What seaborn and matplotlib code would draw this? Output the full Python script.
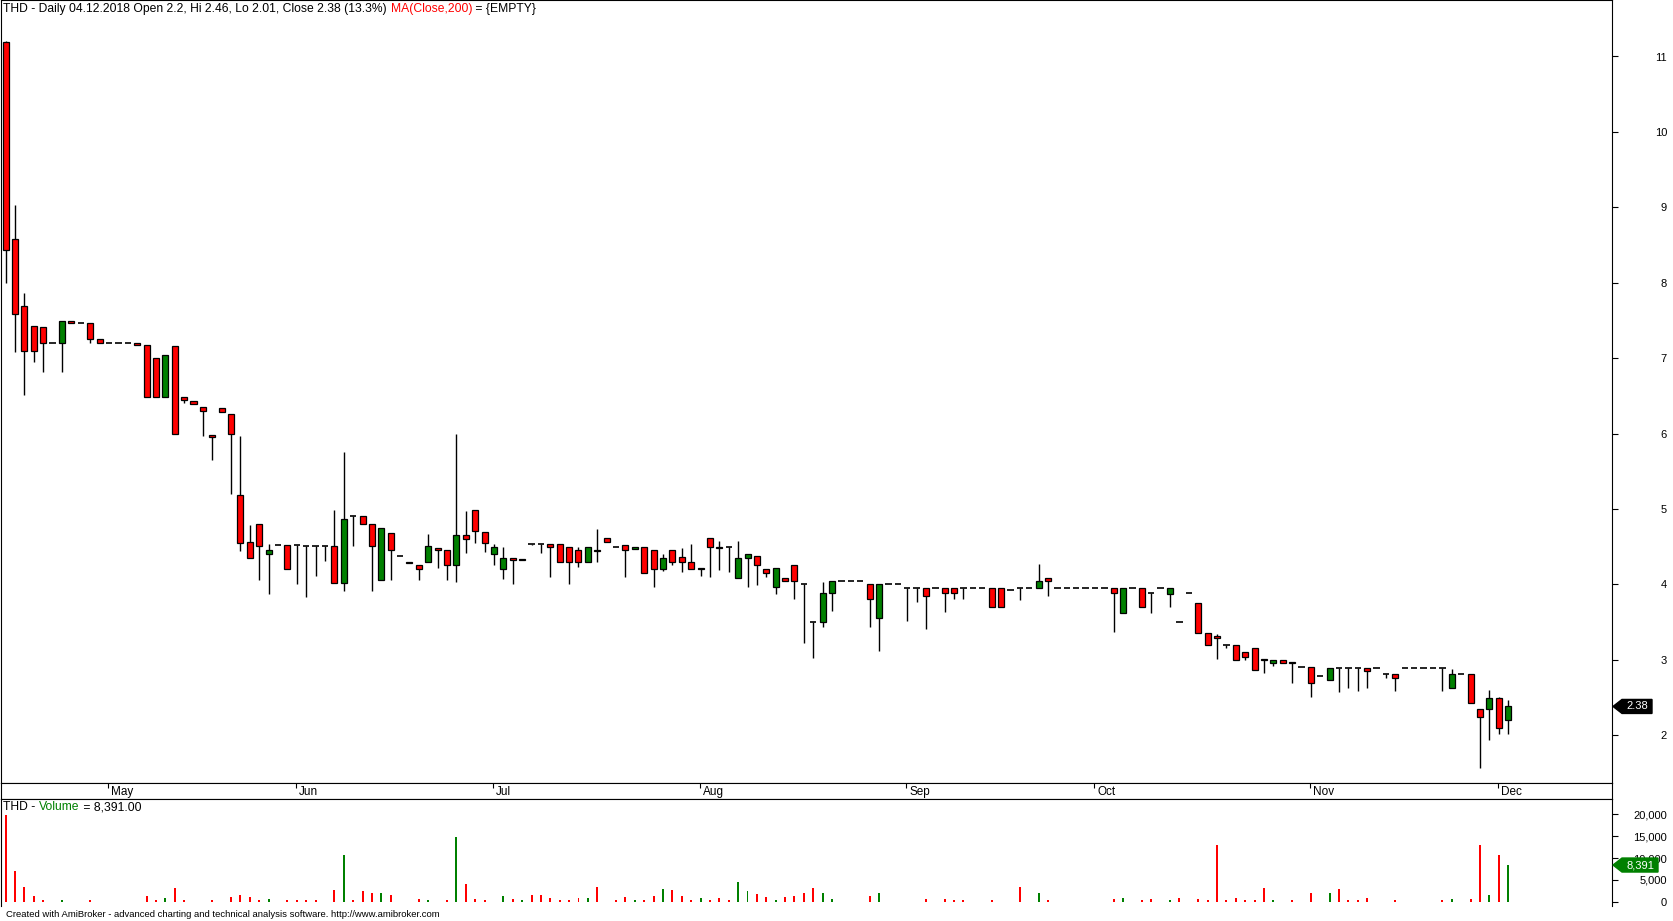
import numpy as np
import pandas as pd
import matplotlib
matplotlib.use("Agg")
import matplotlib.pyplot as plt
from matplotlib.patches import Polygon
import seaborn as sns

# Estilo: fundo branco, linhas pretas como no AmiBroker
sns.set_theme(style="white", rc={
    "axes.edgecolor": "black", "axes.linewidth": 0.8,
    "text.color": "black", "xtick.color": "black", "ytick.color": "black",
})
plt.rcParams['font.family'] = ['Liberation Sans', 'DejaVu Sans']

# --- dados ---
holidays = ['2018-05-01', '2018-05-03', '2018-05-31', '2018-08-15', '2018-11-01', '2018-11-12']
dates = pd.bdate_range('2018-04-16', '2018-12-04', freq='C', holidays=holidays)

opens = [11.19, 8.58, 7.69, 7.42, 7.41, 7.20, 7.20, 7.49, 7.47, 7.47,
         7.25, 7.20, 7.20, 7.20, 7.20, 7.17, 7.00, 6.49, 7.16, 6.48,
         6.43, 6.35, 5.98, 6.34, 6.26, 5.19, 4.56, 4.80, 4.40, 4.52,
         4.52, 4.52, 4.51, 4.51, 4.51, 4.51, 4.02, 4.91, 4.91, 4.80,
         4.06, 4.68, 4.38, 4.30, 4.25, 4.29, 4.48, 4.46, 4.26, 4.65,
         4.98, 4.69, 4.40, 4.20, 4.35, 4.32, 4.54, 4.53, 4.53, 4.53,
         4.50, 4.45, 4.29, 4.46, 4.62, 4.50, 4.52, 4.47, 4.49, 4.46,
         4.20, 4.46, 4.36, 4.29, 4.20, 4.62, 4.50, 4.50, 4.09, 4.35,
         4.38, 4.20, 3.96, 4.08, 4.25, 4.00, 3.50, 3.50, 3.89, 4.04,
         4.04, 4.04, 4.00, 3.55, 4.00, 4.00, 3.95, 3.95, 3.95, 3.95,
         3.95, 3.95, 3.95, 3.95, 3.95, 3.95, 3.95, 3.93, 3.95, 3.95,
         3.95, 4.09, 3.95, 3.95, 3.95, 3.95, 3.95, 3.95, 3.95, 3.62,
         3.95, 3.95, 3.89, 3.95, 3.87, 3.50, 3.88, 3.75, 3.35, 3.31,
         3.20, 3.20, 3.10, 3.15, 3.01, 2.96, 3.00, 2.97, 2.90, 2.90,
         2.78, 2.73, 2.89, 2.89, 2.89, 2.89, 2.89, 2.81, 2.81, 2.89,
         2.89, 2.89, 2.89, 2.89, 2.63, 2.81, 2.81, 2.35, 2.35, 2.49,
         2.20]
highs = [11.20, 9.03, 7.87, 7.42, 7.41, 7.20, 7.49, 7.49, 7.47, 7.47,
         7.25, 7.20, 7.20, 7.20, 7.20, 7.17, 7.00, 7.04, 7.16, 6.48,
         6.43, 6.35, 5.98, 6.34, 6.26, 5.97, 4.79, 4.80, 4.53, 4.52,
         4.52, 4.52, 4.51, 4.51, 4.51, 4.99, 5.76, 4.91, 4.91, 4.80,
         4.75, 4.68, 4.38, 4.30, 4.25, 4.67, 4.48, 4.46, 5.99, 4.97,
         4.98, 4.69, 4.53, 4.49, 4.35, 4.34, 4.54, 4.53, 4.53, 4.53,
         4.50, 4.49, 4.50, 4.73, 4.62, 4.50, 4.52, 4.49, 4.49, 4.46,
         4.40, 4.46, 4.48, 4.54, 4.22, 4.62, 4.57, 4.50, 4.57, 4.40,
         4.38, 4.20, 4.21, 4.08, 4.25, 4.00, 3.50, 4.03, 4.04, 4.04,
         4.04, 4.04, 4.00, 4.00, 4.00, 4.00, 3.95, 3.95, 3.95, 3.95,
         3.95, 3.95, 3.95, 3.95, 3.95, 3.95, 3.95, 3.93, 3.95, 3.95,
         4.27, 4.09, 3.95, 3.95, 3.95, 3.95, 3.95, 3.95, 3.95, 3.95,
         3.95, 3.95, 3.89, 3.95, 3.95, 3.50, 3.88, 3.75, 3.35, 3.34,
         3.20, 3.20, 3.10, 3.15, 3.01, 3.00, 3.00, 2.97, 2.90, 2.90,
         2.78, 2.89, 2.89, 2.89, 2.89, 2.89, 2.89, 2.81, 2.81, 2.89,
         2.89, 2.89, 2.89, 2.89, 2.88, 2.81, 2.81, 2.35, 2.60, 2.51,
         2.46]
lows = [8.00, 7.08, 6.51, 6.95, 6.81, 7.20, 6.81, 7.47, 7.47, 7.20,
        7.20, 7.20, 7.20, 7.20, 7.17, 6.49, 6.49, 6.49, 5.99, 6.41,
        6.39, 5.97, 5.65, 6.29, 5.20, 4.44, 4.35, 4.06, 3.87, 4.52,
        4.20, 4.01, 3.83, 4.11, 4.31, 4.02, 3.91, 4.51, 4.80, 3.91,
        4.06, 4.06, 4.38, 4.28, 4.06, 4.29, 4.21, 4.06, 4.03, 4.41,
        4.55, 4.43, 4.26, 4.07, 4.01, 4.32, 4.52, 4.41, 4.10, 4.29,
        4.01, 4.23, 4.29, 4.30, 4.56, 4.50, 4.10, 4.47, 4.15, 3.97,
        4.18, 4.26, 4.16, 4.20, 4.11, 4.10, 4.19, 4.16, 4.09, 3.97,
        3.99, 4.10, 3.87, 4.05, 3.81, 3.22, 3.02, 3.44, 3.65, 4.04,
        4.04, 4.04, 3.43, 3.12, 4.00, 4.00, 3.51, 3.76, 3.41, 3.95,
        3.63, 3.81, 3.81, 3.95, 3.95, 3.70, 3.70, 3.93, 3.79, 3.95,
        3.95, 3.85, 3.95, 3.95, 3.95, 3.95, 3.95, 3.95, 3.37, 3.62,
        3.95, 3.70, 3.62, 3.95, 3.70, 3.50, 3.88, 3.35, 3.20, 3.01,
        3.16, 3.00, 3.00, 2.86, 2.82, 2.91, 2.96, 2.69, 2.90, 2.51,
        2.78, 2.73, 2.57, 2.63, 2.59, 2.62, 2.89, 2.76, 2.58, 2.89,
        2.89, 2.89, 2.89, 2.58, 2.63, 2.81, 2.43, 1.57, 1.93, 2.02,
        2.01]
closes = [8.44, 7.59, 7.09, 7.09, 7.20, 7.20, 7.49, 7.47, 7.47, 7.25,
          7.20, 7.20, 7.20, 7.20, 7.17, 6.49, 6.49, 7.04, 5.99, 6.44,
          6.39, 6.30, 5.95, 6.29, 5.99, 4.55, 4.35, 4.51, 4.45, 4.52,
          4.20, 4.52, 4.51, 4.51, 4.51, 4.02, 4.86, 4.91, 4.80, 4.51,
          4.75, 4.45, 4.38, 4.28, 4.20, 4.51, 4.46, 4.26, 4.65, 4.60,
          4.71, 4.55, 4.50, 4.35, 4.32, 4.34, 4.54, 4.53, 4.50, 4.29,
          4.29, 4.29, 4.50, 4.44, 4.56, 4.50, 4.46, 4.49, 4.15, 4.20,
          4.35, 4.29, 4.29, 4.20, 4.22, 4.49, 4.48, 4.50, 4.35, 4.40,
          4.25, 4.15, 4.21, 4.05, 4.05, 4.00, 3.50, 3.89, 4.04, 4.04,
          4.04, 4.04, 3.80, 4.00, 4.00, 4.00, 3.95, 3.95, 3.85, 3.95,
          3.89, 3.89, 3.95, 3.95, 3.95, 3.70, 3.70, 3.93, 3.95, 3.95,
          4.05, 4.05, 3.95, 3.95, 3.95, 3.95, 3.95, 3.95, 3.89, 3.95,
          3.95, 3.70, 3.89, 3.95, 3.95, 3.50, 3.88, 3.35, 3.20, 3.29,
          3.20, 3.00, 3.03, 2.86, 2.99, 3.00, 2.96, 2.95, 2.90, 2.69,
          2.78, 2.89, 2.89, 2.89, 2.89, 2.85, 2.89, 2.81, 2.76, 2.89,
          2.89, 2.89, 2.89, 2.89, 2.81, 2.81, 2.43, 2.24, 2.49, 2.10,
          2.38]
volumes = [19900, 7100, 3430, 1370, 300, 0, 400, 0, 0, 400,
           0, 0, 0, 0, 0, 1370, 300, 840, 3200, 300,
           0, 0, 300, 0, 1070, 1530, 1070, 300, 690, 0,
           300, 400, 300, 400, 0, 2750, 10750, 400, 2530, 2080,
           2080, 1530, 0, 0, 610, 400, 0, 400, 14900, 4100,
           610, 300, 0, 1220, 610, 300, 1530, 1530, 840, 310,
           460, 770, 930, 3470, 0, 460, 1160, 310, 310, 1390,
           3010, 2780, 1390, 310, 930, 310, 930, 310, 4400, 2550,
           1850, 1160, 460, 1160, 1390, 1900, 3050, 1880, 700, 0,
           0, 0, 1400, 1880, 0, 0, 0, 0, 700, 0,
           700, 310, 310, 0, 0, 310, 0, 0, 3280, 0,
           2100, 310, 0, 0, 0, 0, 0, 0, 700, 940,
           0, 310, 700, 0, 470, 940, 0, 700, 470, 12900,
           310, 940, 310, 470, 3050, 470, 0, 310, 0, 2100,
           0, 2100, 2800, 470, 470, 940, 0, 0, 470, 0,
           0, 0, 0, 310, 700, 0, 700, 13000, 1640, 10800,
           8391]
price_ticks = [2, 3, 4, 5, 6, 7, 8, 9, 10, 11]
volume_ticks = [0, 5000, 10000, 15000, 20000]

df = pd.DataFrame({'date': dates, 'open': opens, 'high': highs,
                   'low': lows, 'close': closes, 'volume': volumes})
df['x'] = np.arange(len(df))

RED = '#ff0000'
GREEN = '#008000'

W, H = 1673, 921
fig = plt.figure(figsize=(W / 100, H / 100), dpi=100)


def box(l, t, r, b):
    return [l / W, 1 - b / H, (r - l) / W, (b - t) / H]


ax = fig.add_axes(box(0.5, 0.5, 1612, 783))
axd = fig.add_axes(box(0.5, 783, 1612, 799))
axv = fig.add_axes(box(0.5, 799, 1612, 906))

xlim = ((0.5 - 5.7) / 9.39, (1612 - 5.7) / 9.39)
for a in (ax, axd, axv):
    a.set_xlim(*xlim)
    a.set_xticks([])
    a.set_facecolor('white')

# --- candles ---
up = df[df['close'] > df['open']]
down = df[df['close'] < df['open']]
flat = df[df['close'] == df['open']]
ax.vlines(df['x'], df['low'], df['high'], color='black', lw=1, zorder=1)
ax.bar(up['x'], up['close'] - up['open'], bottom=up['open'], width=0.64,
       color=GREEN, edgecolor='black', linewidth=0.9, zorder=2)
ax.bar(down['x'], down['open'] - down['close'], bottom=down['close'], width=0.64,
       color=RED, edgecolor='black', linewidth=0.9, zorder=2)
ax.hlines(flat['close'], flat['x'] - 0.34, flat['x'] + 0.34, color='black', lw=1.2, zorder=2)

ax.set_ylim(11 - (783 - 56.5) / 75.4, 11 - (0.5 - 56.5) / 75.4)
ax.yaxis.tick_right()
ax.set_yticks(price_ticks)
ax.set_yticklabels([str(t) for t in price_ticks])
ax.tick_params(axis='y', direction='out', length=4.3, width=0.8, pad=35.3, labelsize=8, right=True, left=False)
for lab in ax.get_yticklabels():
    lab.set_horizontalalignment('right')

# --- date strip ---
axd.set_ylim(0, 1)
axd.set_yticks([])
month_start = df[df['date'].dt.month != df['date'].shift(1).dt.month].iloc[1:]
for _, row in month_start.iterrows():
    axd.vlines(row['x'] - 0.1, 0.7, 1.0, color='black', lw=0.8)
    axd.text(row['x'] + 0.25, 0.42, row['date'].strftime('%b'), fontsize=8.5, va='center', ha='left')

# --- volume ---
vol_colors = np.where(df['close'] > df['open'], GREEN, RED)
axv.bar(df['x'], df['volume'], width=0.21, color=vol_colors, linewidth=0)
axv.set_ylim((901.7 - 906) / 4.37 * 1000, (901.7 - 799) / 4.37 * 1000)
axv.yaxis.tick_right()
axv.set_yticks(volume_ticks)
axv.set_yticklabels([f'{t:,}' for t in volume_ticks])
axv.tick_params(axis='y', direction='out', length=4.3, width=0.8, pad=35.3, labelsize=8, right=True, left=False)
for lab in axv.get_yticklabels():
    lab.set_horizontalalignment('right')
axv.spines['bottom'].set_visible(False)

# --- títulos ---
t1 = fig.text(3.5 / W, 1 - 9 / H, 'THD - Daily 04.12.2018 Open 2.2, Hi 2.46, Lo 2.01, Close 2.38 (13.3%) ',
              fontsize=8.7, va='center', ha='left')
t2 = plt.annotate('MA(Close,200)', xycoords=t1, xy=(1, 0), va='bottom', ha='left', fontsize=8.7, color=RED)
plt.annotate(' = {EMPTY}', xycoords=t2, xy=(1, 0), va='bottom', ha='left', fontsize=8.7)

v1 = fig.text(3.5 / W, 1 - 807 / H, 'THD - ', fontsize=8.7, va='center', ha='left')
v2 = plt.annotate('Volume', xycoords=v1, xy=(1, 0), va='bottom', ha='left', fontsize=8.7, color=GREEN)
plt.annotate(' = 8,391.00', xycoords=v2, xy=(1, 0), va='bottom', ha='left', fontsize=8.7)

fig.text(5.5 / W, 1 - 914 / H,
         'Created with AmiBroker - advanced charting and technical analysis software. http://www.amibroker.com',
         fontsize=6.8, va='center', ha='left')


# --- marcadores do último valor ---
def value_tag(a, value, text, color, right):
    y_disp = a.transData.transform((0, value))[1]
    y = H - y_disp
    pts = [(1613, y), (1622, y - 7), (right, y - 7), (right, y + 7), (1622, y + 7)]
    fig.patches.append(Polygon([(px / W, 1 - py / H) for px, py in pts], closed=True,
                               transform=fig.transFigure, facecolor=color, edgecolor=color, zorder=5))
    fig.text((1622 + right) / 2 / W, 1 - y / H, text, color='white', fontsize=8,
             ha='center', va='center', zorder=6)


fig.canvas.draw()
value_tag(ax, closes[-1], f'{closes[-1]:.2f}', 'black', 1652)
value_tag(axv, volumes[-1], f'{volumes[-1]:,}', GREEN, 1658)

fig.savefig('out.png', dpi=100)
